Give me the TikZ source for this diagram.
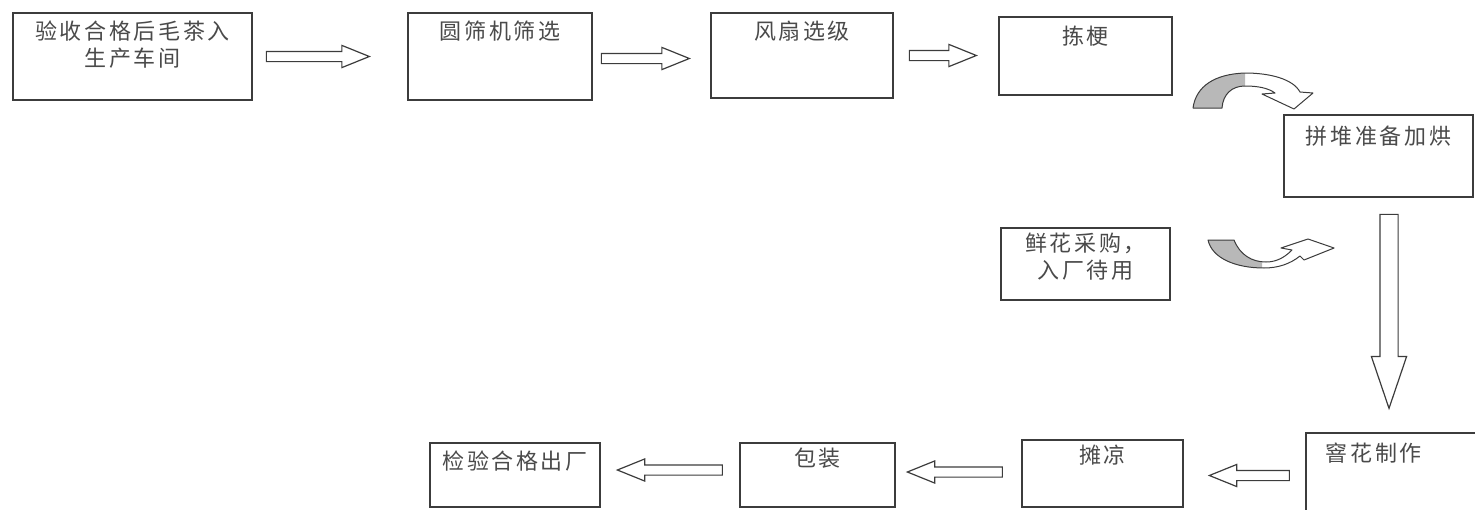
\documentclass[tikz,border=0pt]{standalone}
\usepackage{fontspec}
\newfontfamily\cjk[LetterSpace=12]{Noto Sans CJK SC}
\usetikzlibrary{positioning,shapes.arrows}
\definecolor{traco}{HTML}{3C3C3C}
\definecolor{texto}{HTML}{4A4A4A}
\definecolor{sombra}{HTML}{B8B8B8}
% curved arrows, coordinates in px (y down)
\newcommand\curvaA{(1193,108) .. controls (1196,86) and (1215,74) .. (1245,73) .. controls (1270,73) and (1293,79) .. (1300,92) -- (1313,93) -- (1294,109) -- (1262,94) -- (1275,93) .. controls (1268,88) and (1258,86) .. (1245,86) .. controls (1232,86) and (1223,94) .. (1222,108) -- cycle}
\newcommand\curvaB{(1208,240) -- (1234,240) .. controls (1240,255) and (1252,262) .. (1266,262) .. controls (1278,262) and (1286,256) .. (1292,250) -- (1281,248) -- (1308,239) -- (1334,248) -- (1304,260) -- (1300,256) .. controls (1290,264) and (1278,268) .. (1264,268) .. controls (1235,268) and (1212,258) .. (1208,240) -- cycle}

\begin{document}
\begin{tikzpicture}[x=1pt, y=-1pt,
  box/.style={draw=traco, line width=1.5pt, inner sep=0pt},
  txt/.style={font=\cjk\fontsize{22}{27}\selectfont, text=texto, align=center},
  seta/.style={single arrow, draw=traco, line width=1.2pt, fill=white,
    inner sep=4.5pt, single arrow head extend=6pt, single arrow tip angle=44},
  setab/.style={seta, inner sep=8.5pt, single arrow head extend=8.5pt,
    single arrow tip angle=37.5, shape border rotate=270},
  curva/.style={draw=traco, line width=1pt, line join=round}]
  \useasboundingbox (0,0) rectangle (1475,509);
  % top row
  \node[box, minimum width=239pt, minimum height=87pt] (b1) at (132.5,56.5) {};
  \node[box, minimum width=184pt, minimum height=87pt] (b2) at (500,56.5) {};
  \node[box, minimum width=182pt, minimum height=85pt] (b3) at (802,55.5) {};
  \node[box, minimum width=173pt, minimum height=78pt] (b4) at (1085.5,56) {};
  \node[box, minimum width=189pt, minimum height=82pt] (b5) at (1378.5,156) {};
  \node[box, minimum width=169pt, minimum height=72pt] (b6) at (1085.5,264) {};
  % bottom row
  \node[box, minimum width=184pt, minimum height=92pt] (b7) at (1398,479) {};
  \node[box, minimum width=161pt, minimum height=67pt] (b8) at (1102.5,473.5) {};
  \node[box, minimum width=155pt, minimum height=64pt] (b9) at (817.5,475) {};
  \node[box, minimum width=170pt, minimum height=64pt] (b10) at (515,475) {};
  % texts
  \node[txt, below=5pt of b1.north] (t1) {验收合格后毛茶入\\生产车间};
  \node[txt, below=5pt of b2.north] (t2) {圆筛机筛选};
  \node[txt, below=5pt of b3.north] (t3) {风扇选级};
  \node[txt, below=6pt of b4.north] (t4) {拣梗};
  \node[txt, below=8pt of b5.north] (t5) {拼堆准备加烘};
  \node[txt, below=2pt of b6.north] (t6) {鲜花采购，\\入厂待用};
  \node[txt, below right=7pt and 17pt of b7.north west] (t7) {窨花制作};
  \node[txt, below=2pt of b8.north] (t8) {摊凉};
  \node[txt, below=2pt of b9.north] (t9) {包装};
  \node[txt, below=5pt of b10.north] (t10) {检验合格出厂};
  % block arrows
  \node[seta, minimum height=103pt, right=13pt of b1] (s1) {};
  \node[seta, minimum height=88pt, right=8pt of b2, yshift=-2pt] (s2) {};
  \node[seta, minimum height=67pt, right=15pt of b3] (s3) {};
  \node[setab, minimum height=194pt, below=16pt of b5, xshift=10.5pt] (s4) {};
  \node[seta, shape border rotate=180, minimum height=80pt, right=24pt of b8, yshift=-2pt] (s5) {};
  \node[seta, shape border rotate=180, minimum height=95pt, right=10pt of b9, yshift=3pt] (s6) {};
  \node[seta, shape border rotate=180, minimum height=105pt, right=15pt of b10, yshift=5pt] (s7) {};
  % curved arrows
  \fill[white] \curvaA;
  \begin{scope}
    \clip (1150,0) rectangle (1245,150);
    \fill[sombra] \curvaA;
  \end{scope}
  \draw[curva] \curvaA;
  \fill[white] \curvaB;
  \begin{scope}
    \clip (1150,200) rectangle (1262,300);
    \fill[sombra] \curvaB;
  \end{scope}
  \draw[curva] \curvaB;
\end{tikzpicture}
\end{document}
